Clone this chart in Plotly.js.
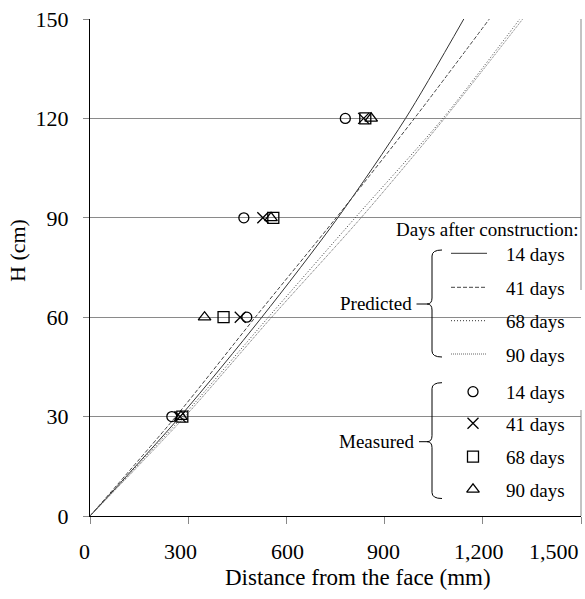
<!DOCTYPE html>
<html><head><meta charset="utf-8">
<script src="https://cdn.plot.ly/plotly-3.0.1.min.js"></script>
<style>html,body{margin:0;padding:0;background:#fff}#chart{width:585px;height:599px}</style>
</head><body><div id="chart"></div>
<script>
// ---- data ----
const heights = [0, 30, 60, 90, 120, 150];          // H (cm)
const pred14 = [0, 275, 525, 757, 964, 1142];       // predicted, distance (mm)
const pred41 = [0, 262, 505, 752, 991, 1220];
const pred68 = [0, 283, 545, 810, 1078, 1313];
const pred90 = [0, 290, 555, 828, 1083, 1322];

const measH  = [30, 60, 90, 120];
const meas14 = [250, 479, 470, 780];
const meas41 = [275, 459, 528, 836];
const meas68 = [282, 408, 560, 841];
const meas90 = [278, 350, 553, 859];

const dayLabels = ['14 days', '41 days', '68 days', '90 days'];
const xTicks = [0, 300, 600, 900, 1200, 1500];
const xTickText = ['0', '300', '600', '900', '1,200', '1,500'];
const yTicks = [0, 30, 60, 90, 120, 150];
const yTickText = ['0', '30', '60', '90', '120', '150'];

// ---- geometry ----
const W = 585, H = 599, L = 90, R = 4, T = 19, B = 83;
const pw = W - L - R, ph = H - T - B;
const px = x => (x - L) / pw;
const py = y => (H - B - y) / ph;
const FONT = 'Liberation Serif, Times New Roman, serif';

const predSeries = [pred14, pred41, pred68, pred90];
const predStyles = [
  {color: '#333', width: 1, dash: 'solid'},
  {color: '#444', width: 1, dash: '4px,2px'},
  {color: '#333', width: 1, dash: '1px,2px'},
  {color: '#666', width: 1, dash: '1px,1px'}
];
const measSeries = [meas14, meas41, meas68, meas90];
const measSymbols = ['circle-open', 'x-thin-open', 'square-open', 'triangle-up-open'];
const measSizes = [10, 11, 11, 11];

const traces = [];
predSeries.forEach((d, i) => {
  traces.push({x: d, y: heights, mode: 'lines', type: 'scatter',
    line: Object.assign({shape: 'spline', smoothing: 0.8}, predStyles[i]),
    hoverinfo: 'skip', showlegend: false});
});
measSeries.forEach((d, i) => {
  traces.push({x: d, y: measH, mode: 'markers', type: 'scatter',
    marker: {symbol: measSymbols[i], size: measSizes[i], color: '#000', line: {color: '#000', width: 1.3}},
    hoverinfo: 'skip', showlegend: false, cliponaxis: false});
});

// legend layout (pixel positions)
const predRowY = [253.3, 287.3, 320.7, 354];
const measRowY = [391.7, 423.3, 456.7, 489.3];
const textX = 504;

// legend markers on an overlay axis spanning the paper
measSymbols.forEach((s, i) => {
  traces.push({x: [px(473)], y: [py(measRowY[i])], xaxis: 'x2', yaxis: 'y2',
    mode: 'markers', type: 'scatter',
    marker: {symbol: s, size: measSizes[i], color: '#000', line: {color: '#000', width: 1.3}},
    hoverinfo: 'skip', showlegend: false, cliponaxis: false});
});

const shapes = [];
// right border of plot
shapes.push({type: 'line', xref: 'paper', yref: 'paper', x0: 1, x1: 1, y0: 0, y1: 1,
  line: {color: '#888', width: 1}, layer: 'between'});
// white legend boxes (above grid, below traces)
shapes.push({type: 'rect', xref: 'paper', yref: 'paper', x0: px(432), x1: px(584), y0: py(410), y1: py(290),
  fillcolor: '#fff', line: {width: 0}, layer: 'between'});
shapes.push({type: 'rect', xref: 'paper', yref: 'paper', x0: px(432), x1: px(579), y0: py(505), y1: py(240),
  fillcolor: '#fff', line: {width: 0}, layer: 'between'});
// legend line samples
predStyles.forEach((st, i) => {
  shapes.push({type: 'line', xref: 'paper', yref: 'paper', x0: px(451), x1: px(487),
    y0: py(predRowY[i]), y1: py(predRowY[i]), line: {color: st.color, width: 1, dash: st.dash}});
});
// brackets
function bracket(top, bot, mid, xv, xe, xd) {
  const p = (x, y) => px(x) + ',' + py(y);
  const path = 'M' + p(xe, top) + ' Q' + p(xv, top) + ' ' + p(xv, top + 6) +
    ' L' + p(xv, mid - 6) + ' Q' + p(xv, mid) + ' ' + p(xv - 5, mid) +
    ' Q' + p(xv, mid) + ' ' + p(xv, mid + 6) +
    ' L' + p(xv, bot - 6) + ' Q' + p(xv, bot) + ' ' + p(xe, bot);
  shapes.push({type: 'path', xref: 'paper', yref: 'paper', path: path, line: {color: '#000', width: 1}});
  shapes.push({type: 'line', xref: 'paper', yref: 'paper', x0: px(xd), x1: px(xv - 5), y0: py(mid), y1: py(mid),
    line: {color: '#000', width: 1}});
}
bracket(250, 357, 304, 432, 442, 416.5);
bracket(382.7, 498.5, 441.7, 432, 442, 419);

const annotations = [];
const ann = (text, x, y, xanchor, size, extra) => annotations.push(Object.assign({
  text: text, xref: 'paper', yref: 'paper', x: px(x), y: py(y), xanchor: xanchor, yanchor: 'middle',
  showarrow: false, font: {family: FONT, size: size, color: '#000'}}, extra || {}));

ann('Days after construction:', 581, 229, 'right', 19);
ann('Predicted', 414, 303, 'right', 19);
ann('Measured', 415.5, 441, 'right', 19);
dayLabels.forEach((t, i) => { ann(t, textX, predRowY[i] + 1, 'left', 19); });
dayLabels.forEach((t, i) => { ann(t, textX, measRowY[i] + 1, 'left', 19); });

// x tick labels
const xLabelShift = [-6, -8, 1, -1, -4, 0];
xTicks.forEach((v, i) => {
  const last = i === xTicks.length - 1;
  annotations.push({text: xTickText[i], xref: 'x', yref: 'paper', x: v, y: py(551),
    xanchor: last ? 'right' : 'center', yanchor: 'middle', xshift: xLabelShift[i],
    showarrow: false, font: {family: FONT, size: 22, color: '#000'}});
});
// axis titles
ann('Distance from the face (mm)', 357.5, 577, 'center', 23);
ann('H (cm)', 18, 251, 'center', 22, {textangle: -90});

const layout = {
  width: W, height: H,
  margin: {l: L, r: R, t: T, b: B, pad: 0},
  paper_bgcolor: '#fff', plot_bgcolor: '#fff',
  font: {family: FONT, size: 22, color: '#000'},
  showlegend: false,
  xaxis: {range: [0, 1500], tickvals: xTicks, showticklabels: false, ticks: 'outside', ticklen: 7,
    tickcolor: '#888', tickwidth: 1, showline: true, linecolor: '#000', linewidth: 1,
    showgrid: false, zeroline: false, fixedrange: true},
  yaxis: {range: [0, 150], tickvals: yTicks, ticktext: yTickText, ticks: 'outside', ticklen: 6,
    tickcolor: '#888', tickwidth: 1, showline: true, linecolor: '#000', linewidth: 1,
    showgrid: true, gridcolor: '#8a8a8a', gridwidth: 1.2, zeroline: false, fixedrange: true,
    tickfont: {family: FONT, size: 22, color: '#000'}, ticklabelstandoff: 10},
  xaxis2: {overlaying: 'x', range: [0, 1], visible: false, fixedrange: true, anchor: 'y2'},
  yaxis2: {overlaying: 'y', range: [0, 1], visible: false, fixedrange: true, anchor: 'x2'},
  shapes: shapes,
  annotations: annotations
};

Plotly.newPlot('chart', traces, layout, {staticPlot: true, displayModeBar: false});
</script>
</body></html>
